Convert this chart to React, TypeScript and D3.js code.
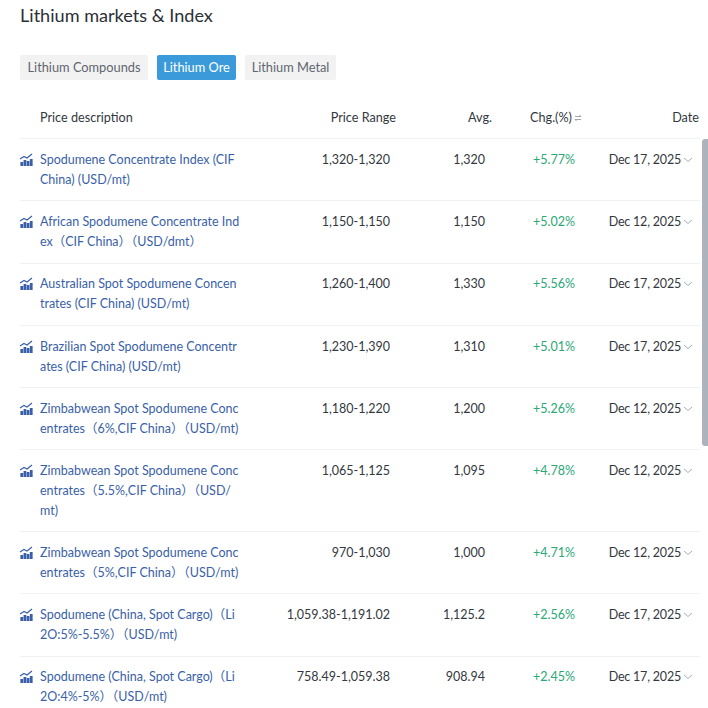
import React from 'react';
import * as d3 from 'd3';

const tabs = ['Lithium Compounds', 'Lithium Ore', 'Lithium Metal'];
const columns = ['Price description', 'Price Range', 'Avg.', 'Chg.(%)', 'Date'];

const names = [
  ['Spodumene Concentrate Index (CIF', 'China) (USD/mt)'],
  ['African Spodumene Concentrate Ind', 'ex（CIF China）（USD/dmt）'],
  ['Australian Spot Spodumene Concen', 'trates (CIF China) (USD/mt)'],
  ['Brazilian Spot Spodumene Concentr', 'ates (CIF China) (USD/mt)'],
  ['Zimbabwean Spot Spodumene Conc', 'entrates（6%,CIF China）（USD/mt)'],
  ['Zimbabwean Spot Spodumene Conc', 'entrates（5.5%,CIF China）（USD/', 'mt)'],
  ['Zimbabwean Spot Spodumene Conc', 'entrates（5%,CIF China）（USD/mt)'],
  ['Spodumene (China, Spot Cargo)（Li', '2O:5%-5.5%）（USD/mt)'],
  ['Spodumene (China, Spot Cargo)（Li', '2O:4%-5%）（USD/mt)'],
];
const ranges = ['1,320-1,320', '1,150-1,150', '1,260-1,400', '1,230-1,390', '1,180-1,220', '1,065-1,125', '970-1,030', '1,059.38-1,191.02', '758.49-1,059.38'];
const avgs = ['1,320', '1,150', '1,330', '1,310', '1,200', '1,095', '1,000', '1,125.2', '908.94'];
const changes = ['+5.77%', '+5.02%', '+5.56%', '+5.01%', '+5.26%', '+4.78%', '+4.71%', '+2.56%', '+2.45%'];
const dates = ['Dec 17, 2025', 'Dec 12, 2025', 'Dec 17, 2025', 'Dec 17, 2025', 'Dec 12, 2025', 'Dec 12, 2025', 'Dec 12, 2025', 'Dec 17, 2025', 'Dec 17, 2025'];

const iconBars = [4, 6, 5, 7];

const FONT = "Lato, 'Noto Sans CJK SC', sans-serif";
const DARK = '#333840';
const LINK = '#3a5fa8';
const GREEN = '#2aa876';
const RULE = '#f0f1f3';
const LINE_H = 20;
const TOP = 138.45;

// row tops follow from how many lines each name wraps to
const rowTops = Array.from(d3.cumsum([TOP, ...names.map(n => n.length * LINE_H + 22.19)]));

const iconLine = d3.line();

function Icon({ x, y }: { x: number; y: number }) {
  const barX = d3.scaleBand<number>().domain(d3.range(iconBars.length)).range([0, 13]).padding(0.12);
  return (
    <g transform={`translate(${x},${y})`} fill="#3a5fa8">
      {iconBars.map((h, i) => (
        <rect key={i} x={barX(i)} y={12.5 - h} width={barX.bandwidth()} height={h} />
      ))}
      <path
        d={iconLine([[0, 5.5], [4, 3], [7, 4.5], [12, 0.5]]) ?? ''}
        fill="none"
        stroke="#3a5fa8"
        strokeWidth={1.2}
      />
    </g>
  );
}

export default function App() {
  const tabX = [20, 157, 245];
  const tabW = [128, 79, 91];
  return (
    <svg
      width={708}
      height={708}
      style={{ position: 'absolute', left: 0, top: 0, background: '#fff' }}
      fontFamily={FONT}
      fontSize={12.5}
    >
      <text x={20} y={22} fontSize={18.1} fill="#2b2f36">Lithium markets &amp; Index</text>

      {tabs.map((t, i) => (
        <g key={t}>
          <rect x={tabX[i]} y={55} width={tabW[i]} height={25} rx={2} fill={i === 1 ? '#3b9ad9' : '#f2f2f2'} />
          <text x={tabX[i] + tabW[i] / 2} y={72} fontSize={12.8} textAnchor="middle" fill={i === 1 ? '#fff' : '#5f6670'}>{t}</text>
        </g>
      ))}

      <g fontSize={12.65} fill={DARK}>
        <text x={40} y={122}>{columns[0]}</text>
        <text x={396} y={122} textAnchor="end">{columns[1]}</text>
        <text x={492} y={122} textAnchor="end">{columns[2]}</text>
        <text x={572} y={122} textAnchor="end">{columns[3]}</text>
        <text x={699} y={122} textAnchor="end">{columns[4]}</text>
      </g>
      <g stroke="#8a8f98" strokeWidth={0.8} fill="none">
        <path d="M575 116.5h6l-1.5-1.5M581 119.5h-6l1.5 1.5" />
      </g>

      {rowTops.map(y => (
        <line key={y} x1={20} x2={700} y1={Math.floor(y + 0.2) + 0.5} y2={Math.floor(y + 0.2) + 0.5} stroke={RULE} />
      ))}

      {names.map((lines, i) => {
        const top = rowTops[i];
        const base = Math.floor(top + 25) + 1;
        return (
          <g key={i}>
            <Icon x={20} y={base - 10.5} />
            {lines.map((l, j) => (
              <text key={j} x={40} y={base + j * LINE_H} fill={LINK} xmlSpace="preserve">{l}</text>
            ))}
            <text x={390} y={base} textAnchor="end" fill={DARK}>{ranges[i]}</text>
            <text x={485} y={base} textAnchor="end" fill={DARK}>{avgs[i]}</text>
            <text x={575} y={base} textAnchor="end" fill={GREEN}>{changes[i]}</text>
            <text x={681} y={base} letterSpacing={-0.2} textAnchor="end" fill={DARK}>{dates[i]}</text>
            <path
              d={`M684 ${base - 6}l4 3.5 4-3.5`}
              fill="none"
              stroke="#a9adb3"
              strokeWidth={1}
            />
          </g>
        );
      })}

      <rect x={702} y={139} width={8} height={307} rx={3} fill="#adb3bd" />
    </svg>
  );
}
